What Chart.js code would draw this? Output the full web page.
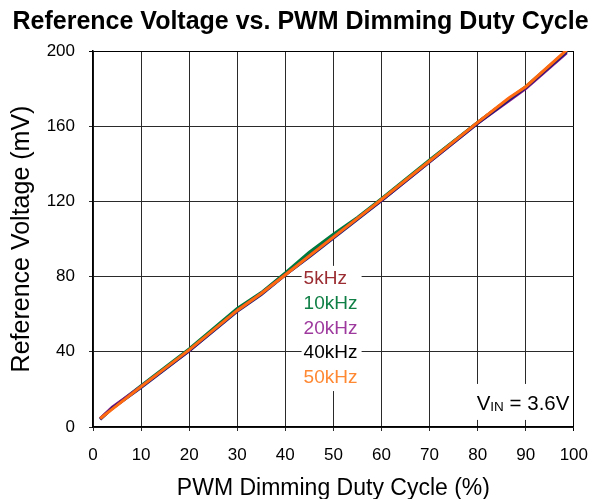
<!DOCTYPE html>
<html>
<head>
<meta charset="utf-8">
<script src="https://cdn.jsdelivr.net/npm/chart.js@4.4.1/dist/chart.umd.min.js"></script>
<style>
  html, body { margin: 0; padding: 0; background: #fff; }
  #wrap { width: 602px; height: 499px; position: relative; }
</style>
</head>
<body>
<div id="wrap"><canvas id="c"></canvas></div>
<script>
// ---- data ----
const dutyCycle = [1.5, 4, 10, 20, 30, 35, 40, 45, 50, 55, 60, 70, 80, 86.5, 90, 98.5];
const v5kHz  = [4.5, 10, 21.5, 41, 62.5, 71, 81.5, 92, 101.5, 111, 121, 141.5, 162, 174.5, 180.5, 200];
const v10kHz = [4.5, 10, 22, 41.5, 63, 71.5, 82, 93, 102.5, 111.5, 121.5, 142, 162, 174.5, 181, 200];
const v20kHz = [4.5, 10.5, 21.5, 40.5, 62, 71, 81, 91, 101, 111, 120.5, 141, 161.5, 173.5, 180, 199];
const v40kHz = [4, 10, 21, 40.5, 61.5, 70.5, 81, 90.5, 100.5, 110.5, 120.5, 141, 161.5, 174, 180.5, 199.5];
const v50kHz = [4.5, 9.5, 21.5, 41, 62, 71, 81, 91, 101, 111, 121, 141.5, 162, 175, 181, 200.5];
const seriesLabels = ['5kHz', '10kHz', '20kHz', '40kHz', '50kHz'];
const seriesValues = [v5kHz, v10kHz, v20kHz, v40kHz, v50kHz];
const lineColors  = ['#8B2323', '#007A3D', '#8B1A89', '#1F1A7A', '#FF6A10'];
const labelColors = ['#9B2D32', '#0F7F45', '#9E3A9E', '#000000', '#FF8833'];
const xTicks = [0, 10, 20, 30, 40, 50, 60, 70, 80, 90, 100];
const yTicks = [0, 40, 80, 120, 160, 200];

const FONT = "'Liberation Sans', Arial, sans-serif";

const datasets = seriesLabels.map((lab, i) => ({
  label: lab,
  data: dutyCycle.map((d, k) => ({ x: d, y: seriesValues[i][k] })),
  borderColor: lineColors[i],
  backgroundColor: lineColors[i],
  borderWidth: 3,
  pointRadius: 0,
  tension: 0,
  fill: false,
  order: seriesLabels.length - i
}));

const bgPlugin = {
  id: 'bg',
  beforeDraw(chart) {
    const ctx = chart.ctx;
    ctx.save();
    ctx.fillStyle = '#fff';
    ctx.fillRect(0, 0, chart.width, chart.height);
    ctx.restore();
  }
};

const annotPlugin = {
  id: 'annot',
  afterDatasetsDraw(chart) {
    const ctx = chart.ctx;
    const xs = chart.scales.x, ys = chart.scales.y;
    ctx.save();
    // legend text block
    const lx = xs.getPixelForValue(43.8);
    const ly0 = ys.getPixelForValue(78.8);
    const step = 24.8;
    ctx.font = "19px " + FONT;
    ctx.fillStyle = '#fff';
    ctx.fillRect(lx - 2, ly0 - 13, 60, step * 4 + 26);
    ctx.textBaseline = 'middle';
    ctx.textAlign = 'left';
    seriesLabels.forEach((lab, i) => {
      ctx.fillStyle = labelColors[i];
      ctx.fillText(lab, lx, ly0 + i * step);
    });
    // V_IN annotation
    const vx = xs.getPixelForValue(79.8);
    const vy = ys.getPixelForValue(12.8);
    ctx.fillStyle = '#fff';
    ctx.fillRect(vx - 3, vy - 19, chart.chartArea.right - vx + 2, 36);
    ctx.fillStyle = '#000';
    ctx.textBaseline = 'alphabetic';
    ctx.font = "20.5px " + FONT;
    const base = vy + 7;
    ctx.fillText('V', vx, base);
    let w = ctx.measureText('V').width;
    ctx.font = "13.5px " + FONT;
    ctx.fillText('IN', vx + w, base + 1);
    w += ctx.measureText('IN').width;
    ctx.font = "20.5px " + FONT;
    ctx.fillText(' = 3.6V', vx + w, base);
    ctx.restore();
  }
};

const gridColor = (ctx, edgeVal) => (ctx.tick && ctx.tick.value === edgeVal) ? '#000' : '#2a2a2a';

new Chart(document.getElementById('c'), {
  type: 'line',
  data: { datasets },
  plugins: [bgPlugin, annotPlugin],
  options: {
    responsive: true,
    maintainAspectRatio: false,
    animation: false,
    layout: { padding: { left: 12, right: 13, top: 0, bottom: 0 } },
    plugins: {
      legend: { display: false },
      tooltip: { enabled: false },
      title: {
        display: true,
        text: 'Reference Voltage vs. PWM Dimming Duty Cycle',
        color: '#000',
        font: { family: FONT, size: 25, weight: 'bold' },
        padding: { top: 7, bottom: 14 }
      }
    },
    scales: {
      x: {
        type: 'linear',
        min: 0, max: 100,
        afterBuildTicks: s => { s.ticks = xTicks.map(v => ({ value: v })); },
        afterFit: s => { s.height = 72; },
        ticks: { color: '#000', font: { family: FONT, size: 17 }, padding: 14, maxRotation: 0 },
        grid: { color: c => gridColor(c, 100), lineWidth: 1, tickLength: 4, drawTicks: true },
        border: { color: '#000', width: 1.5 },
        title: {
          display: true,
          text: 'PWM Dimming Duty Cycle (%)',
          color: '#000',
          font: { family: FONT, size: 23, lineHeight: 0.9 },
          padding: { top: 0, bottom: 0 }
        }
      },
      y: {
        type: 'linear',
        min: 0, max: 200,
        afterBuildTicks: s => { s.ticks = yTicks.map(v => ({ value: v })); },
        afterFit: s => { s.width = 81; },
        ticks: { color: '#000', font: { family: FONT, size: 17 }, padding: 14 },
        grid: { color: c => gridColor(c, 200), lineWidth: 1, tickLength: 4, drawTicks: true },
        border: { color: '#000', width: 1.5 },
        title: {
          display: true,
          text: 'Reference Voltage (mV)',
          color: '#000',
          font: { family: FONT, size: 25, lineHeight: 0.6 },
          padding: { top: 2.5, bottom: 0 }
        }
      },
      yRight: {
        type: 'linear',
        position: 'right',
        min: 0, max: 200,
        afterFit: s => { s.width = 12; },
        ticks: { display: false },
        grid: { display: false, drawOnChartArea: false, drawTicks: false },
        border: { display: false },
        title: { display: false }
      }
    }
  }
});
</script>
</body>
</html>
